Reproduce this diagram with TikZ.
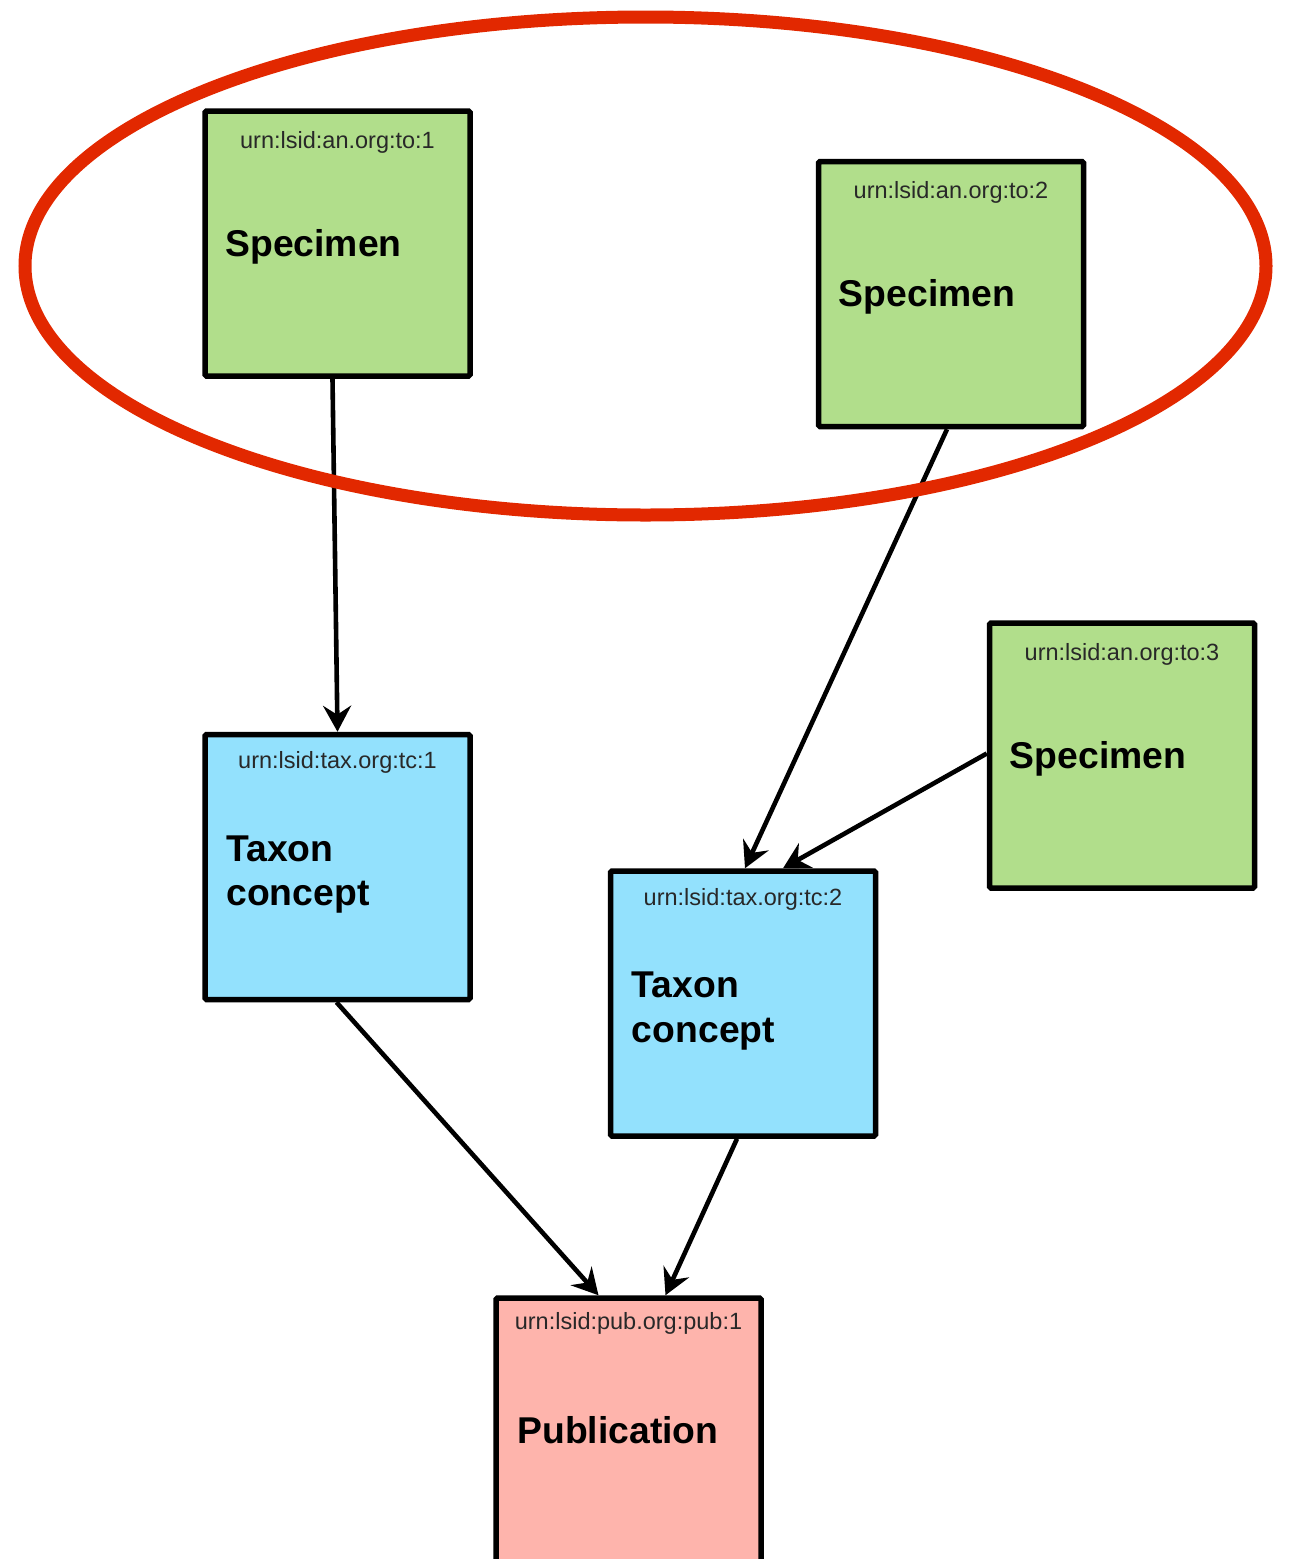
\documentclass[tikz,border=0pt]{standalone}
\usepackage{fontspec}
\setmainfont{Liberation Sans}
\usetikzlibrary{arrows.meta,calc,shapes.geometric}

\definecolor{specgreen}{RGB}{177,222,139}
\definecolor{taxblue}{RGB}{147,225,253}
\definecolor{pubpink}{RGB}{254,180,172}
\definecolor{ringred}{RGB}{226,40,0}
\definecolor{idgray}{RGB}{40,40,40}

\tikzset{
  card/.style={draw=black, line width=5.5pt, rounded corners=1.5pt,
    minimum width=265pt, minimum height=265pt, inner sep=0pt},
  idtext/.style={anchor=base, inner sep=0pt, text=idgray,
    font=\fontsize{23.5}{28}\selectfont},
  title/.style={anchor=base west, inner sep=0pt, align=left,
    font=\fontsize{37.3}{44.5}\selectfont\bfseries},
  link/.style={draw=black, line width=4.6pt,
    -{Stealth[length=26pt, width=28pt, inset=9pt]}},
}

\begin{document}
\begin{tikzpicture}[x=1pt, y=-1pt]
  \useasboundingbox (0,0) rectangle (1290,1559);
  \clip (0,0) rectangle (1290,1559);

  % records
  \node[card, fill=specgreen] (s1) at (337.5,243.5) {};
  \node[card, fill=specgreen] (s2) at (951,294) {};
  \node[card, fill=specgreen] (s3) at (1122,755.5) {};
  \node[card, fill=taxblue]   (t1) at (337.5,867) {};
  \node[card, fill=taxblue]   (t2) at (743,1003.5) {};
  \node[card, fill=pubpink]   (p1) at (628.5,1430.5) {};

  % identifiers
  \node[idtext] (s1id) at ($(s1.north)+(0,40)$) {urn:lsid:an.org:to:1};
  \node[idtext] (s2id) at ($(s2.north)+(0,40)$) {urn:lsid:an.org:to:2};
  \node[idtext] (s3id) at ($(s3.north)+(0,40)$) {urn:lsid:an.org:to:3};
  \node[idtext] (t1id) at ($(t1.north)+(0,37)$) {urn:lsid:tax.org:tc:1};
  \node[idtext] (t2id) at ($(t2.north)+(0,37)$) {urn:lsid:tax.org:tc:2};
  \node[idtext] (p1id) at ($(p1.north)+(0,34)$) {urn:lsid:pub.org:pub:1};

  % titles (base anchor of a two-line title is its last line)
  \node[title] (s1t) at ($(s1.north west)+(23,148)$) {Specimen};
  \node[title] (s2t) at ($(s2.north west)+(23,148)$) {Specimen};
  \node[title] (s3t) at ($(s3.north west)+(23,148)$) {Specimen};
  \node[title] (t1t) at ($(t1.north west)+(24,174)$) {Taxon\\concept};
  \node[title] (t2t) at ($(t2.north west)+(24,174)$) {Taxon\\concept};
  \node[title] (p1t) at ($(p1.north west)+(24,148)$) {Publication};

  % links
  \draw[link] ($(s1.south)+(-5,0)$) -- ($(t1.north)+(0,0)$);
  \draw[link] ($(s2.south)+(-4,0)$) -- ($(t2.north)+(2,0)$);
  \draw[link] ($(s3.west)+(0,-2)$) -- ($(t2.north)+(40,0)$);
  \draw[link] ($(t1.south)+(-1,0)$) -- ($(p1.north)+(-30,0)$);
  \draw[link] ($(t2.south)+(-6,0)$) -- ($(p1.north)+(37,0)$);

  % grouping ring
  \node[draw=ringred, line width=13pt, ellipse, inner sep=0pt,
        minimum width=1241pt, minimum height=498pt] (ring) at (645.5,266) {};
\end{tikzpicture}
\end{document}
